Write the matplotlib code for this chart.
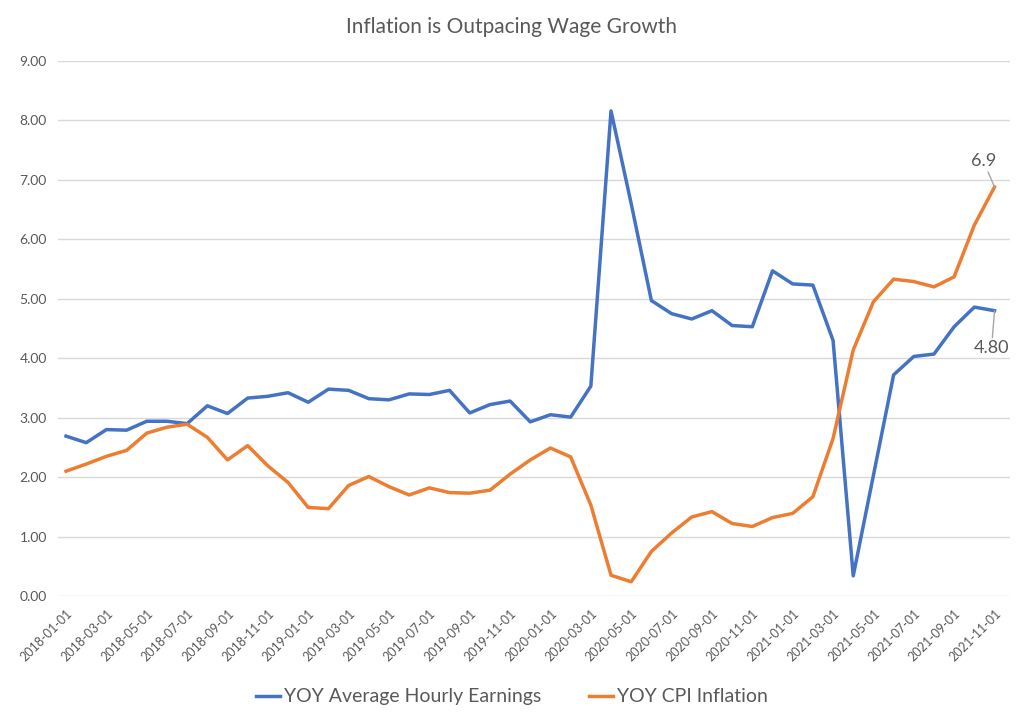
import matplotlib.pyplot as plt
import pandas as pd

plt.rcParams['font.family'] = ['Lato', 'DejaVu Sans']

# Datas mensais (2018-01 a 2021-11)
dates = pd.date_range('2018-01-01', periods=47, freq='MS').strftime('%Y-%m-%d').tolist()

# YOY Average Hourly Earnings (%)
earnings = [2.69, 2.58, 2.80, 2.79, 2.94, 2.94, 2.90, 3.20, 3.07, 3.33,
            3.36, 3.42, 3.26, 3.48, 3.46, 3.32, 3.30, 3.40, 3.39, 3.46,
            3.08, 3.22, 3.28, 2.93, 3.05, 3.01, 3.53, 8.16, 6.60, 4.97,
            4.75, 4.66, 4.80, 4.55, 4.53, 5.47, 5.25, 5.23, 4.30, 0.34,
            2.03, 3.72, 4.03, 4.07, 4.53, 4.86, 4.80]

# YOY CPI Inflation (%)
cpi = [2.10, 2.22, 2.35, 2.45, 2.74, 2.84, 2.89, 2.67, 2.29, 2.53,
       2.19, 1.91, 1.49, 1.47, 1.86, 2.01, 1.84, 1.70, 1.82, 1.74,
       1.73, 1.78, 2.05, 2.29, 2.49, 2.34, 1.53, 0.35, 0.24, 0.75,
       1.06, 1.33, 1.42, 1.22, 1.17, 1.32, 1.39, 1.67, 2.65, 4.14,
       4.95, 5.33, 5.29, 5.20, 5.37, 6.24, 6.88]

blue = '#4472C4'
orange = '#ED7D31'
gray = '#595959'

x = list(range(len(dates)))

fig = plt.figure(figsize=(10.24, 7.26), dpi=100)
ax = fig.add_axes([0.0566, 0.179, 0.9294, 0.737])

ax.plot(x, earnings, color=blue, lw=2.5, label='YOY Average Hourly Earnings', solid_joinstyle='round')
ax.plot(x, cpi, color=orange, lw=2.5, label='YOY CPI Inflation', solid_joinstyle='round')

ax.set_ylim(0, 9)
ax.set_xlim(-0.4, 46.75)
ax.set_yticks(range(10))
ax.set_yticklabels([f'{v:.2f}' for v in range(10)], color=gray, fontsize=10)
ax.set_xticks(x[::2])
ax.set_xticklabels(dates[::2], rotation=45, ha='right', rotation_mode='anchor',
                   color=gray, fontsize=9)
ax.tick_params(length=0, pad=8)
ax.grid(axis='y', color='#D9D9D9', lw=1)
ax.set_axisbelow(True)
for s in ax.spines.values():
    s.set_visible(False)

# Rótulos dos últimos valores
ax.annotate('6.9', xy=(x[-1], cpi[-1]), xytext=(x[-1] - 0.55, cpi[-1] + 0.3),
            ha='center', va='bottom', color=gray, fontsize=13,
            arrowprops=dict(arrowstyle='-', color='#A6A6A6', lw=1, shrinkA=0, shrinkB=0))
ax.annotate('4.80', xy=(x[-1], earnings[-1]), xytext=(x[-1] - 0.15, earnings[-1] - 0.5),
            ha='center', va='top', color=gray, fontsize=13,
            arrowprops=dict(arrowstyle='-', color='#A6A6A6', lw=1, shrinkA=0, shrinkB=0))

fig.suptitle('Inflation is Outpacing Wage Growth', y=0.977, color=gray, fontsize=15)
fig.legend(loc='center', bbox_to_anchor=(0.5, 0.04), ncol=2, frameon=False,
           fontsize=14, labelcolor=gray, handlelength=1.2, handletextpad=0.2,
           columnspacing=2.5)

fig.savefig('out.png', dpi=100)
